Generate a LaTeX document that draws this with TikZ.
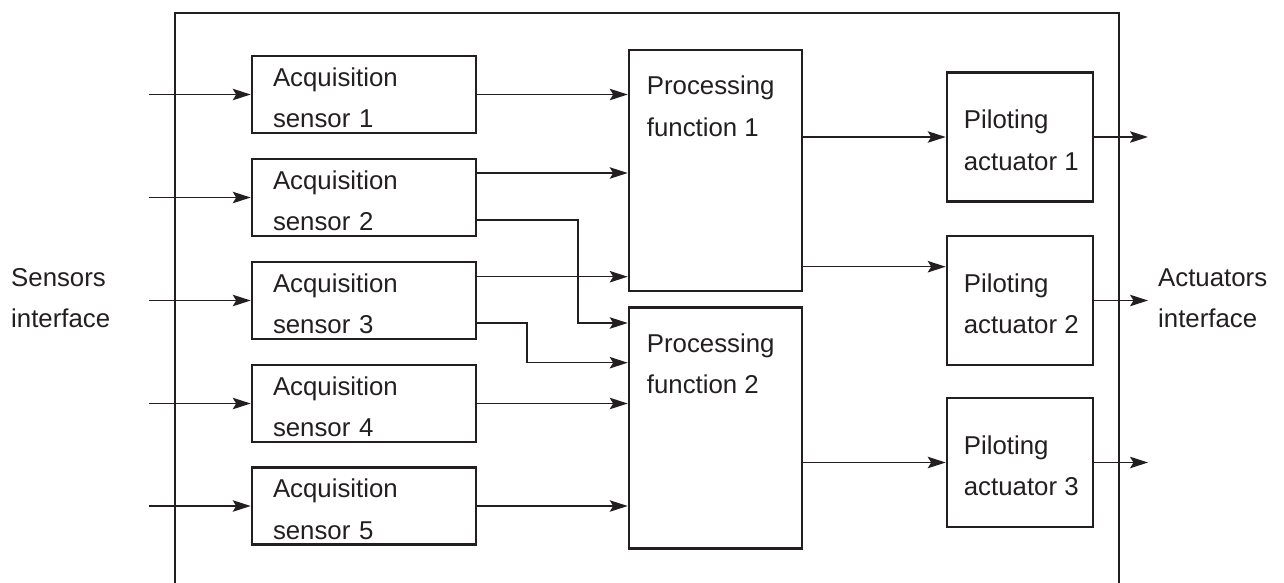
\documentclass[tikz,border=0pt]{standalone}
\usepackage{fontspec}
\setmainfont{Liberation Sans}
\usetikzlibrary{arrows.meta}
\definecolor{ink}{RGB}{35,31,32}
\newcommand{\topst}{\rule{0pt}{25pt}}
\newcommand{\ind}{\hspace*{2.5pt}}
\begin{document}
\begin{tikzpicture}[x=1pt,y=-1pt,
  txt/.style={font=\fontsize{25.8}{41.5}\selectfont, text=ink, align=left, inner sep=0pt},
  box/.style={draw=ink, line width=2.6pt, rectangle, inner xsep=0pt, inner ysep=0pt, txt},
  acq/.style={box, minimum width=224pt, minimum height=77pt, text width=182pt},
  proc/.style={box, minimum width=173pt, minimum height=241pt},
  act/.style={box, minimum width=146pt, minimum height=129pt},
  conn/.style={draw=ink, line width=1.3pt, -{Stealth[length=18pt,width=11.5pt,inset=3.5pt]}},
  outer/.style={draw=ink, line width=2.4pt}
]
\useasboundingbox (0,0) rectangle (1284,582);
% outer frame (open at the bottom)
\draw[outer] (175,584) -- (175,13) -- (1119,13) -- (1119,584);

% acquisition blocks
\node[acq] (a1) at (364,94.5) {\topst Acquisition\\sensor 1};
\node[acq] (a2) at (364,197.5) {\topst Acquisition\\sensor 2};
\node[acq] (a3) at (364,300.5) {\topst Acquisition\\sensor 3};
\node[acq] (a4) at (364,403.5) {\topst Acquisition\\sensor 4};
\node[acq] (a5) at (364,506) {\topst Acquisition\\sensor 5};

% processing blocks
\node[proc] (p1) at (715.5,170.5) {};
\node[proc] (p2) at (715.5,428) {};
\node[txt, anchor=north west] (p1t) at ([xshift=19pt,yshift=-27pt]p1.north west) {Processing\\function 1};
\node[txt, anchor=north west] (p2t) at ([xshift=19pt,yshift=-27pt]p2.north west) {Processing\\function 2};

% actuator blocks
\node[act] (c1) at (1020,137) {\topst\ind Piloting\\\ind actuator 1};
\node[act] (c2) at (1020,300.5) {\topst\ind Piloting\\\ind actuator 2};
\node[act] (c3) at (1020,462.5) {\topst\ind Piloting\\\ind actuator 3};

% interface labels
\node[txt, anchor=west] (si) at (11,298) {Sensors\\interface};
\node[txt, anchor=west] (ai) at (1158,298) {Actuators\\interface};

% inputs
\coordinate (i1) at (149,94.5);
\coordinate (i2) at (149,197.5);
\coordinate (i3) at (149,300.5);
\coordinate (i4) at (149,403.5);
\coordinate (i5) at (149,506);
\foreach \k in {1,...,5} { \draw[conn] (i\k) -- (a\k.west); }

% acquisition -> processing
\coordinate (a2o1) at ([yshift=24.5pt]a2.east);
\coordinate (a2o2) at ([yshift=-22.5pt]a2.east);
\coordinate (a3o1) at ([yshift=23.8pt]a3.east);
\coordinate (a3o2) at ([yshift=-22.5pt]a3.east);
\coordinate (b2) at (578,323);
\coordinate (b3) at (527,362.7);
\draw[conn] (a1.east) -- (a1.east -| p1.west);
\draw[conn] (a2o1) -- (a2o1 -| p1.west);
\draw[conn] (a3o1) -- (a3o1 -| p1.west);
\draw[conn] (a2o2) -| (b2) -- (b2 -| p2.west);
\draw[conn] (a3o2) -| (b3) -- (b3 -| p2.west);
\draw[conn] (a4.east) -- (a4.east -| p2.west);
\draw[conn] (a5.east) -- (a5.east -| p2.west);

% processing -> actuators
\coordinate (c2i) at ([yshift=33.8pt]c2.west);
\draw[conn] (p1.east |- c1.west) -- (c1.west);
\draw[conn] (c2i -| p1.east) -- (c2i);
\draw[conn] (p2.east |- c3.west) -- (c3.west);

% outputs
\coordinate (o1) at (1148,137);
\coordinate (o2) at (1148,300.5);
\coordinate (o3) at (1148,462.5);
\foreach \k in {1,2,3} { \draw[conn] (c\k.east) -- (o\k); }
\end{tikzpicture}
\end{document}
